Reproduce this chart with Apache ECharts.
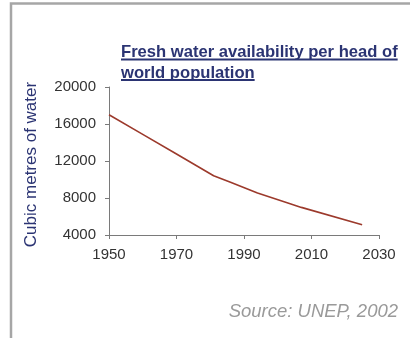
<!DOCTYPE html>
<html>
<head>
<meta charset="utf-8">
<style>
  html, body { margin: 0; padding: 0; background: #ffffff; }
  #chart { width: 410px; height: 338px; }
</style>
<script src="https://cdn.jsdelivr.net/npm/echarts@6/dist/echarts.min.js"></script>
</head>
<body>
<div id="chart"></div>
<script>
// Fresh water available per person, cubic metres, by year
const years = [1950, 1960, 1970, 1981, 1986, 1994, 2003, 2007, 2025];
const waterPerHead = [17000, 14880, 12750, 10410, 9690, 8540, 7460, 6985, 5110];

const titleLines = ['Fresh water availability per head of', 'world population'];
const yAxisTitle = 'Cubic metres of water';
const sourceNote = 'Source: UNEP, 2002';

const navy = '#2b3473';
const titleFont = 'bold 16.6px "Liberation Sans", Arial, sans-serif';

// measure title lines so the underlines fit each line
const ctx = document.createElement('canvas').getContext('2d');
ctx.font = titleFont;

const titleLeft = 121;
const titleBaselines = [57, 77.5];
const titleGraphics = [];
titleLines.forEach((line, i) => {
  const w = ctx.measureText(line).width;
  titleGraphics.push({
    type: 'text',
    left: titleLeft,
    top: titleBaselines[i] - 13,
    style: { text: line, font: titleFont, fill: navy }
  });
  titleGraphics.push({
    type: 'rect',
    shape: { x: titleLeft, y: titleBaselines[i] + 1.5, width: w, height: 2 },
    style: { fill: navy }
  });
});

const labelFont = '"Liberation Sans", Arial, sans-serif';

const chart = echarts.init(document.getElementById('chart'), null, { renderer: 'canvas' });

chart.setOption({
  animation: false,
  backgroundColor: '#ffffff',
  grid: { left: 109, right: 31, top: 87, bottom: 103, containLabel: false },
  xAxis: {
    type: 'value',
    min: 1950,
    max: 2030,
    interval: 20,
    splitLine: { show: false },
    axisLine: { show: true, lineStyle: { color: '#7a7a7a', width: 1 } },
    axisTick: { show: true, length: 4, lineStyle: { color: '#7a7a7a' } },
    axisLabel: {
      margin: 12,
      color: '#333333',
      fontSize: 15,
      fontFamily: labelFont,
      formatter: v => String(v)
    }
  },
  yAxis: {
    type: 'value',
    min: 4000,
    max: 20000,
    interval: 4000,
    splitLine: { show: false },
    axisLine: { show: true, lineStyle: { color: '#7a7a7a', width: 1 } },
    axisTick: { show: true, length: 4, lineStyle: { color: '#7a7a7a' } },
    axisLabel: {
      margin: 13,
      color: '#333333',
      fontSize: 15,
      fontFamily: labelFont,
      formatter: v => String(v)
    },
    name: yAxisTitle,
    nameLocation: 'middle',
    nameRotate: 90,
    nameGap: 69,
    nameTextStyle: {
      color: navy,
      fontSize: 17,
      fontFamily: labelFont,
      padding: [0, 7, 0, 0]
    }
  },
  series: [{
    type: 'line',
    data: years.map((y, i) => [y, waterPerHead[i]]),
    showSymbol: false,
    lineStyle: { color: '#9c3a2c', width: 1.6 },
    itemStyle: { color: '#9c3a2c' }
  }],
  graphic: [
    {
      type: 'polyline',
      shape: { points: [[11, 338], [11, 3.5], [410, 3.5]] },
      style: { stroke: '#a6a6a6', lineWidth: 2.5, fill: null }
    },
    ...titleGraphics,
    {
      type: 'text',
      right: 12,
      top: 302,
      style: {
        text: sourceNote,
        font: 'italic 18.5px "Liberation Sans", Arial, sans-serif',
        fill: '#9a9a9a'
      }
    }
  ]
});
</script>
</body>
</html>
